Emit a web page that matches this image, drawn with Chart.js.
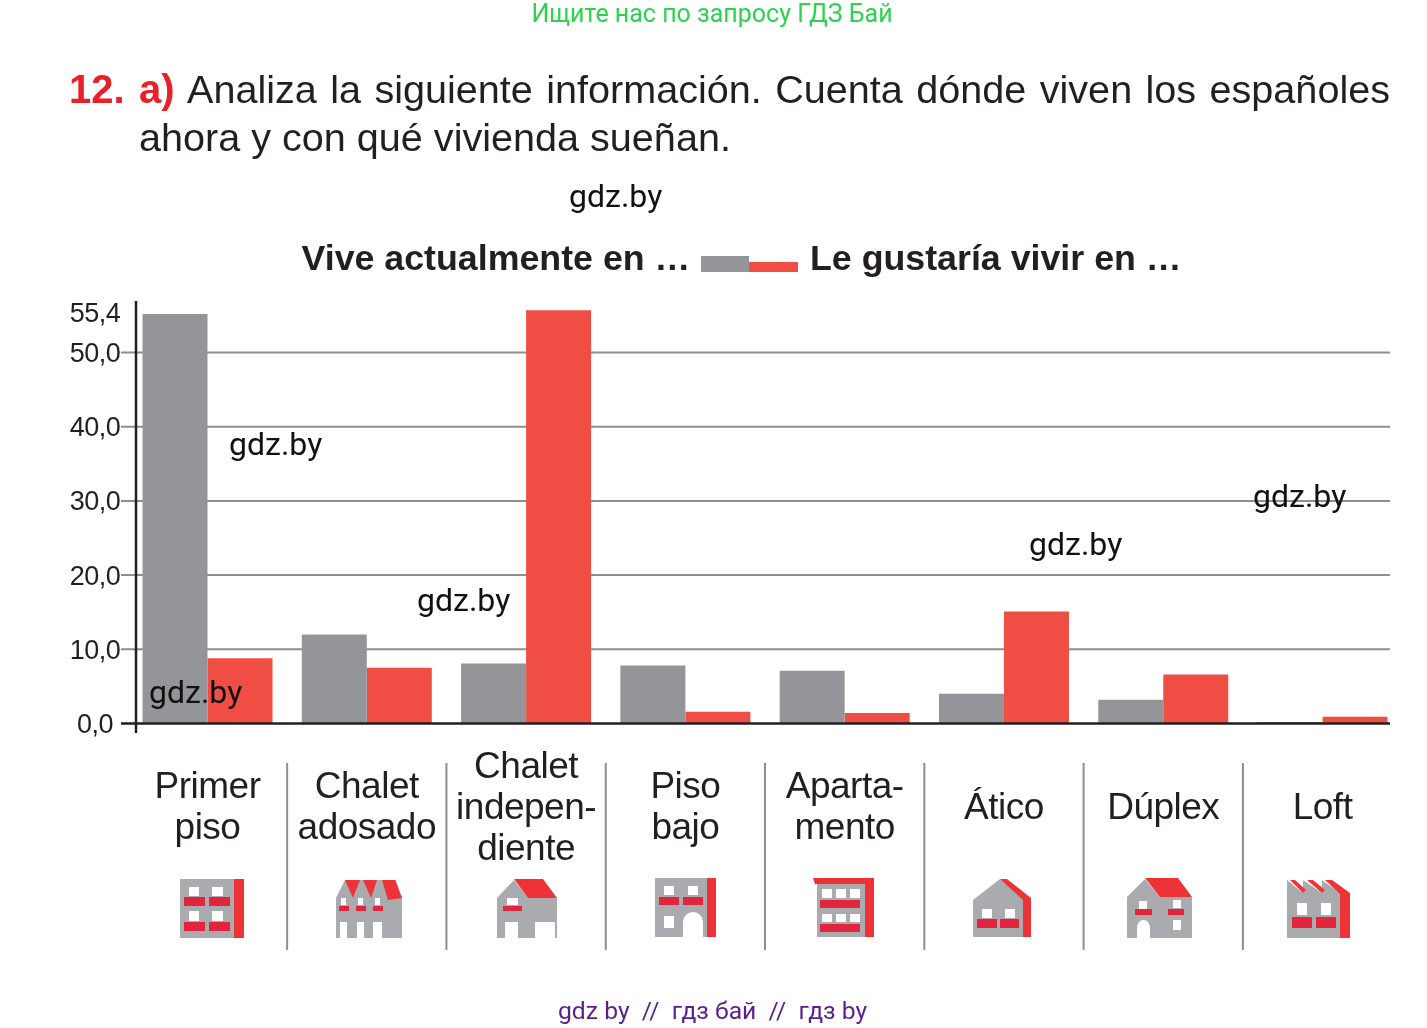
<!DOCTYPE html>
<html lang="es">
<head>
<meta charset="utf-8">
<title>Vivienda</title>
<script src="https://cdn.jsdelivr.net/npm/chart.js@4"></script>
<style>
  html, body { margin: 0; padding: 0; background: #fff; }
  #page { position: relative; width: 1427px; height: 1028px; overflow: hidden; color: #231f20; font-family: "Liberation Sans", sans-serif; }
  #page canvas, #icons { position: absolute; left: 0; top: 0; }
  .t { position: absolute; white-space: nowrap; }
  .head { font-size: 39.6px; line-height: 48px; }
  .red { color: #e8202a; font-weight: bold; font-size: 40px; }
  .leg { font-size: 35.75px; line-height: 44px; font-weight: bold; top: 236px; }
  .wm { font-family: Roboto, sans-serif; font-size: 32px; line-height: 40px; color: #111; }
  .sw { position: absolute; }
</style>
</head>
<body>
<div id="page">
  <canvas id="chart" width="1427" height="1028"></canvas>

  <svg id="icons" width="1427" height="1028" style="filter:blur(.5px)">
    <g fill="#a9abae"><rect x="180" y="879" width="54" height="59"/></g>
    <rect x="234" y="879" width="10" height="59" fill="#ee3338"/>
    <g fill="#fff"><rect x="189" y="887" width="10" height="9"/><rect x="212" y="887" width="11" height="9"/><rect x="189" y="911" width="10" height="10"/><rect x="212" y="911" width="11" height="10"/></g>
    <g fill="#e2243c"><rect x="184" y="897" width="21" height="9"/><rect x="209" y="897" width="21" height="9"/><rect x="184" y="922" width="21" height="9"/><rect x="209" y="922" width="21" height="9"/></g>

    <path d="M336 898 L345 880 H396 L402 898 V938 H382 V922 H373 V938 H364 V922 H357 V938 H347 V922 H340 V938 H336 Z" fill="#a9abae"/>
    <g fill="#ee3338"><path d="M345 880 H360 L353 898 Z"/><path d="M363 880 H377 L371 898 Z"/><path d="M382 880 H395 L402 898 L388 900 Z"/></g>
    <g fill="#fff"><rect x="341" y="898" width="5" height="7"/><rect x="358" y="898" width="5" height="7"/><rect x="375" y="898" width="5" height="7"/></g>
    <g fill="#e2243c"><rect x="339" y="906" width="10" height="5"/><rect x="356" y="906" width="10" height="5"/><rect x="373" y="906" width="10" height="5"/></g>

    <path d="M497 898 L514 880 L528 898 H557 V938 H555 V922 H535 V938 H518 V922 H505 V938 H497 Z" fill="#a9abae"/>
    <path d="M514 879 H543 L557 898 H528 Z" fill="#ee3338"/>
    <rect x="507" y="898" width="11" height="7" fill="#fff"/>
    <rect x="503" y="906" width="19" height="5" fill="#e2243c"/>

    <path d="M655 878 H707 V937 H703 V922 A10 10 0 0 0 683 922 V937 H655 Z" fill="#a9abae"/>
    <rect x="707" y="878" width="9" height="59" fill="#ee3338"/>
    <g fill="#fff"><rect x="664" y="886" width="10" height="9"/><rect x="688" y="886" width="10" height="9"/><rect x="664" y="916" width="10" height="12"/></g>
    <g fill="#e2243c"><rect x="659" y="897" width="20" height="8"/><rect x="683" y="897" width="20" height="8"/></g>

    <rect x="817" y="884" width="48" height="53" fill="#a9abae"/>
    <path d="M813 878 H874 V937 H865 V884 H815 Z" fill="#ee3338"/>
    <g fill="#fff"><rect x="822" y="889" width="10" height="9"/><rect x="836" y="889" width="10" height="9"/><rect x="850" y="889" width="10" height="9"/><rect x="822" y="914" width="10" height="8"/><rect x="836" y="914" width="10" height="8"/><rect x="850" y="914" width="10" height="8"/></g>
    <g fill="#e2243c"><rect x="820" y="900" width="40" height="8"/><rect x="820" y="924" width="40" height="8"/></g>

    <path d="M973 900 L1000 879 L1023 898 V937 H973 Z" fill="#a9abae"/>
    <path d="M1000 879 H1007 L1031 898 V937 H1023 V900 Z" fill="#ee3338"/>
    <g fill="#fff"><rect x="982" y="909" width="10" height="9"/><rect x="1005" y="909" width="10" height="9"/></g>
    <g fill="#e2243c"><rect x="977" y="919" width="20" height="9"/><rect x="1000" y="919" width="19" height="9"/></g>

    <path d="M1127 897 L1145 879 L1160 897 H1192 V938 H1150 V928 A6.5 8 0 0 0 1137 928 V938 H1127 Z" fill="#a9abae"/>
    <path d="M1145 878 H1178 L1192 897 H1160 Z" fill="#ee3338"/>
    <g fill="#fff"><rect x="1139" y="901" width="8" height="8"/><rect x="1173" y="900" width="8" height="8"/><rect x="1173" y="920" width="8" height="10"/></g>
    <g fill="#e2243c"><rect x="1135" y="909" width="17" height="6"/><rect x="1168" y="909" width="16" height="6"/></g>

    <path d="M1287 880 L1303 893 V880 L1322 893 V880 L1340 893 V938 H1287 Z" fill="#a9abae"/>
    <g fill="#ee3338"><path d="M1290 880 H1295 L1306 890 L1303 893 Z"/><path d="M1307 880 H1313 L1325 890 L1322 893 Z"/><path d="M1325 880 H1332 L1350 893 V938 H1340 V894 Z"/></g>
    <g fill="#fff"><rect x="1297" y="903" width="10" height="12"/><rect x="1321" y="903" width="10" height="12"/></g>
    <g fill="#e2243c"><rect x="1292" y="917" width="20" height="11"/><rect x="1316" y="917" width="20" height="11"/></g>
  </svg>

  <div class="t" style="left:0;width:1427px;top:0;text-align:center;font:25px/28px Roboto,sans-serif;color:#2ed24f;padding-right:3px;box-sizing:border-box">Ищите нас по запросу ГДЗ Бай</div>

  <div class="t head red" style="left:69px;top:65px">12.</div>
  <div class="t head red" style="left:139px;top:65px">a)</div>
  <div class="t head" style="left:187px;top:65px;width:1203px;text-align:justify;text-align-last:justify;white-space:normal">Analiza la siguiente información. Cuenta dónde viven los españoles</div>
  <div class="t head" style="left:139px;top:113px">ahora y con qué vivienda sueñan.</div>

  <div class="t leg" style="left:301.5px">Vive actualmente en …</div>
  <div class="sw" style="left:701px;top:256px;width:48px;height:16px;background:#939598"></div>
  <div class="sw" style="left:749px;top:262px;width:49px;height:10px;background:#f04e45"></div>
  <div class="t leg" style="left:810px">Le gustaría vivir en …</div>

  <div class="t wm" style="left:569px;top:176px">gdz.by</div>
  <div class="t wm" style="left:229px;top:424px">gdz.by</div>
  <div class="t wm" style="left:417px;top:580px">gdz.by</div>
  <div class="t wm" style="left:149px;top:672px">gdz.by</div>
  <div class="t wm" style="left:1029px;top:524px">gdz.by</div>
  <div class="t wm" style="left:1253px;top:476px">gdz.by</div>

  <div class="t" style="left:558px;top:996px;font:24.7px/30px Roboto,sans-serif;color:#5a1e8e;white-space:pre">gdz by  //  гдз бай  //  гдз by</div>
</div>

<script>
const categories = [
  ['Primer', 'piso'],
  ['Chalet', 'adosado'],
  ['Chalet', 'indepen-', 'diente'],
  ['Piso', 'bajo'],
  ['Aparta-', 'mento'],
  'Ático',
  'Dúplex',
  'Loft'
];
const viveActualmente = [55.2, 12.0, 8.1, 7.8, 7.1, 4.0, 3.2, 0.2];
const leGustaria = [8.8, 7.5, 55.7, 1.6, 1.4, 15.1, 6.6, 0.9];
const yTicks = [0, 10, 20, 30, 40, 50, 55.4];
const gridTicks = [10, 20, 30, 40, 50];

// lines that sit outside the plot box, so chart.js own grid can't do them
const axisLines = {
  id: 'axisLines',
  beforeDraw(chart) {
    chart.ctx.letterSpacing = '-0.5px';
  },
  beforeDatasetsDraw(chart) {
    const { ctx, scales: { x, y } } = chart;
    ctx.save();
    ctx.strokeStyle = '#8e8e8e';
    ctx.lineWidth = 2;
    gridTicks.forEach(v => {
      const py = y.getPixelForValue(v);
      ctx.beginPath();
      ctx.moveTo(121, py);
      ctx.lineTo(1390, py);
      ctx.stroke();
    });
    // separators between the categories
    const half = (x.getPixelForValue(1) - x.getPixelForValue(0)) / 2;
    for (let i = 0; i < categories.length - 1; i++) {
      const px = x.getPixelForValue(i) + half;
      ctx.beginPath();
      ctx.moveTo(px, 763);
      ctx.lineTo(px, 950);
      ctx.stroke();
    }
    ctx.restore();
  },
  afterDatasetsDraw(chart) {
    const { ctx, scales: { y } } = chart;
    ctx.save();
    ctx.strokeStyle = '#231f20';
    ctx.lineWidth = 2.5;
    ctx.beginPath();
    ctx.moveTo(121, y.getPixelForValue(0));
    ctx.lineTo(1390, y.getPixelForValue(0));
    ctx.moveTo(136, y.top);
    ctx.lineTo(136, 733);
    ctx.stroke();
    ctx.restore();
  }
};

new Chart(document.getElementById('chart'), {
  type: 'bar',
  data: {
    labels: categories,
    datasets: [
      { label: 'Vive actualmente en …', data: viveActualmente, backgroundColor: '#939598', borderWidth: 0 },
      { label: 'Le gustaría vivir en …', data: leGustaria, backgroundColor: '#f04e45', borderWidth: 0 }
    ]
  },
  options: {
    responsive: false,
    animation: false,
    layout: { padding: { top: 301, right: 24.8, bottom: 0, left: 0 } },
    plugins: { legend: { display: false }, title: { display: false }, tooltip: { enabled: false } },
    datasets: { bar: { barPercentage: 1, categoryPercentage: 0.816 } },
    scales: {
      x: {
        grid: { display: false, drawTicks: false },
        border: { display: false },
        afterFit(scale) { scale.height = 304.5; },
        ticks: {
          autoSkip: false,
          maxRotation: 0,
          crossAlign: 'center',
          padding: 44,
          color: '#231f20',
          font: { family: '"Liberation Sans", sans-serif', size: 37, lineHeight: '41px' }
        }
      },
      y: {
        min: 0,
        max: 56.94,
        grid: { display: false, drawTicks: false },
        border: { display: false },
        afterBuildTicks(scale) { scale.ticks = yTicks.map(v => ({ value: v })); },
        afterFit(scale) { scale.width = 127.85; },
        ticks: {
          autoSkip: false,
          crossAlign: 'center',
          padding: 6.5,
          labelOffset: 2,
          color: '#231f20',
          font: { family: '"Liberation Sans", sans-serif', size: 27 },
          callback: v => v.toFixed(1).replace('.', ',')
        }
      }
    }
  },
  plugins: [axisLines]
});
</script>
</body>
</html>
